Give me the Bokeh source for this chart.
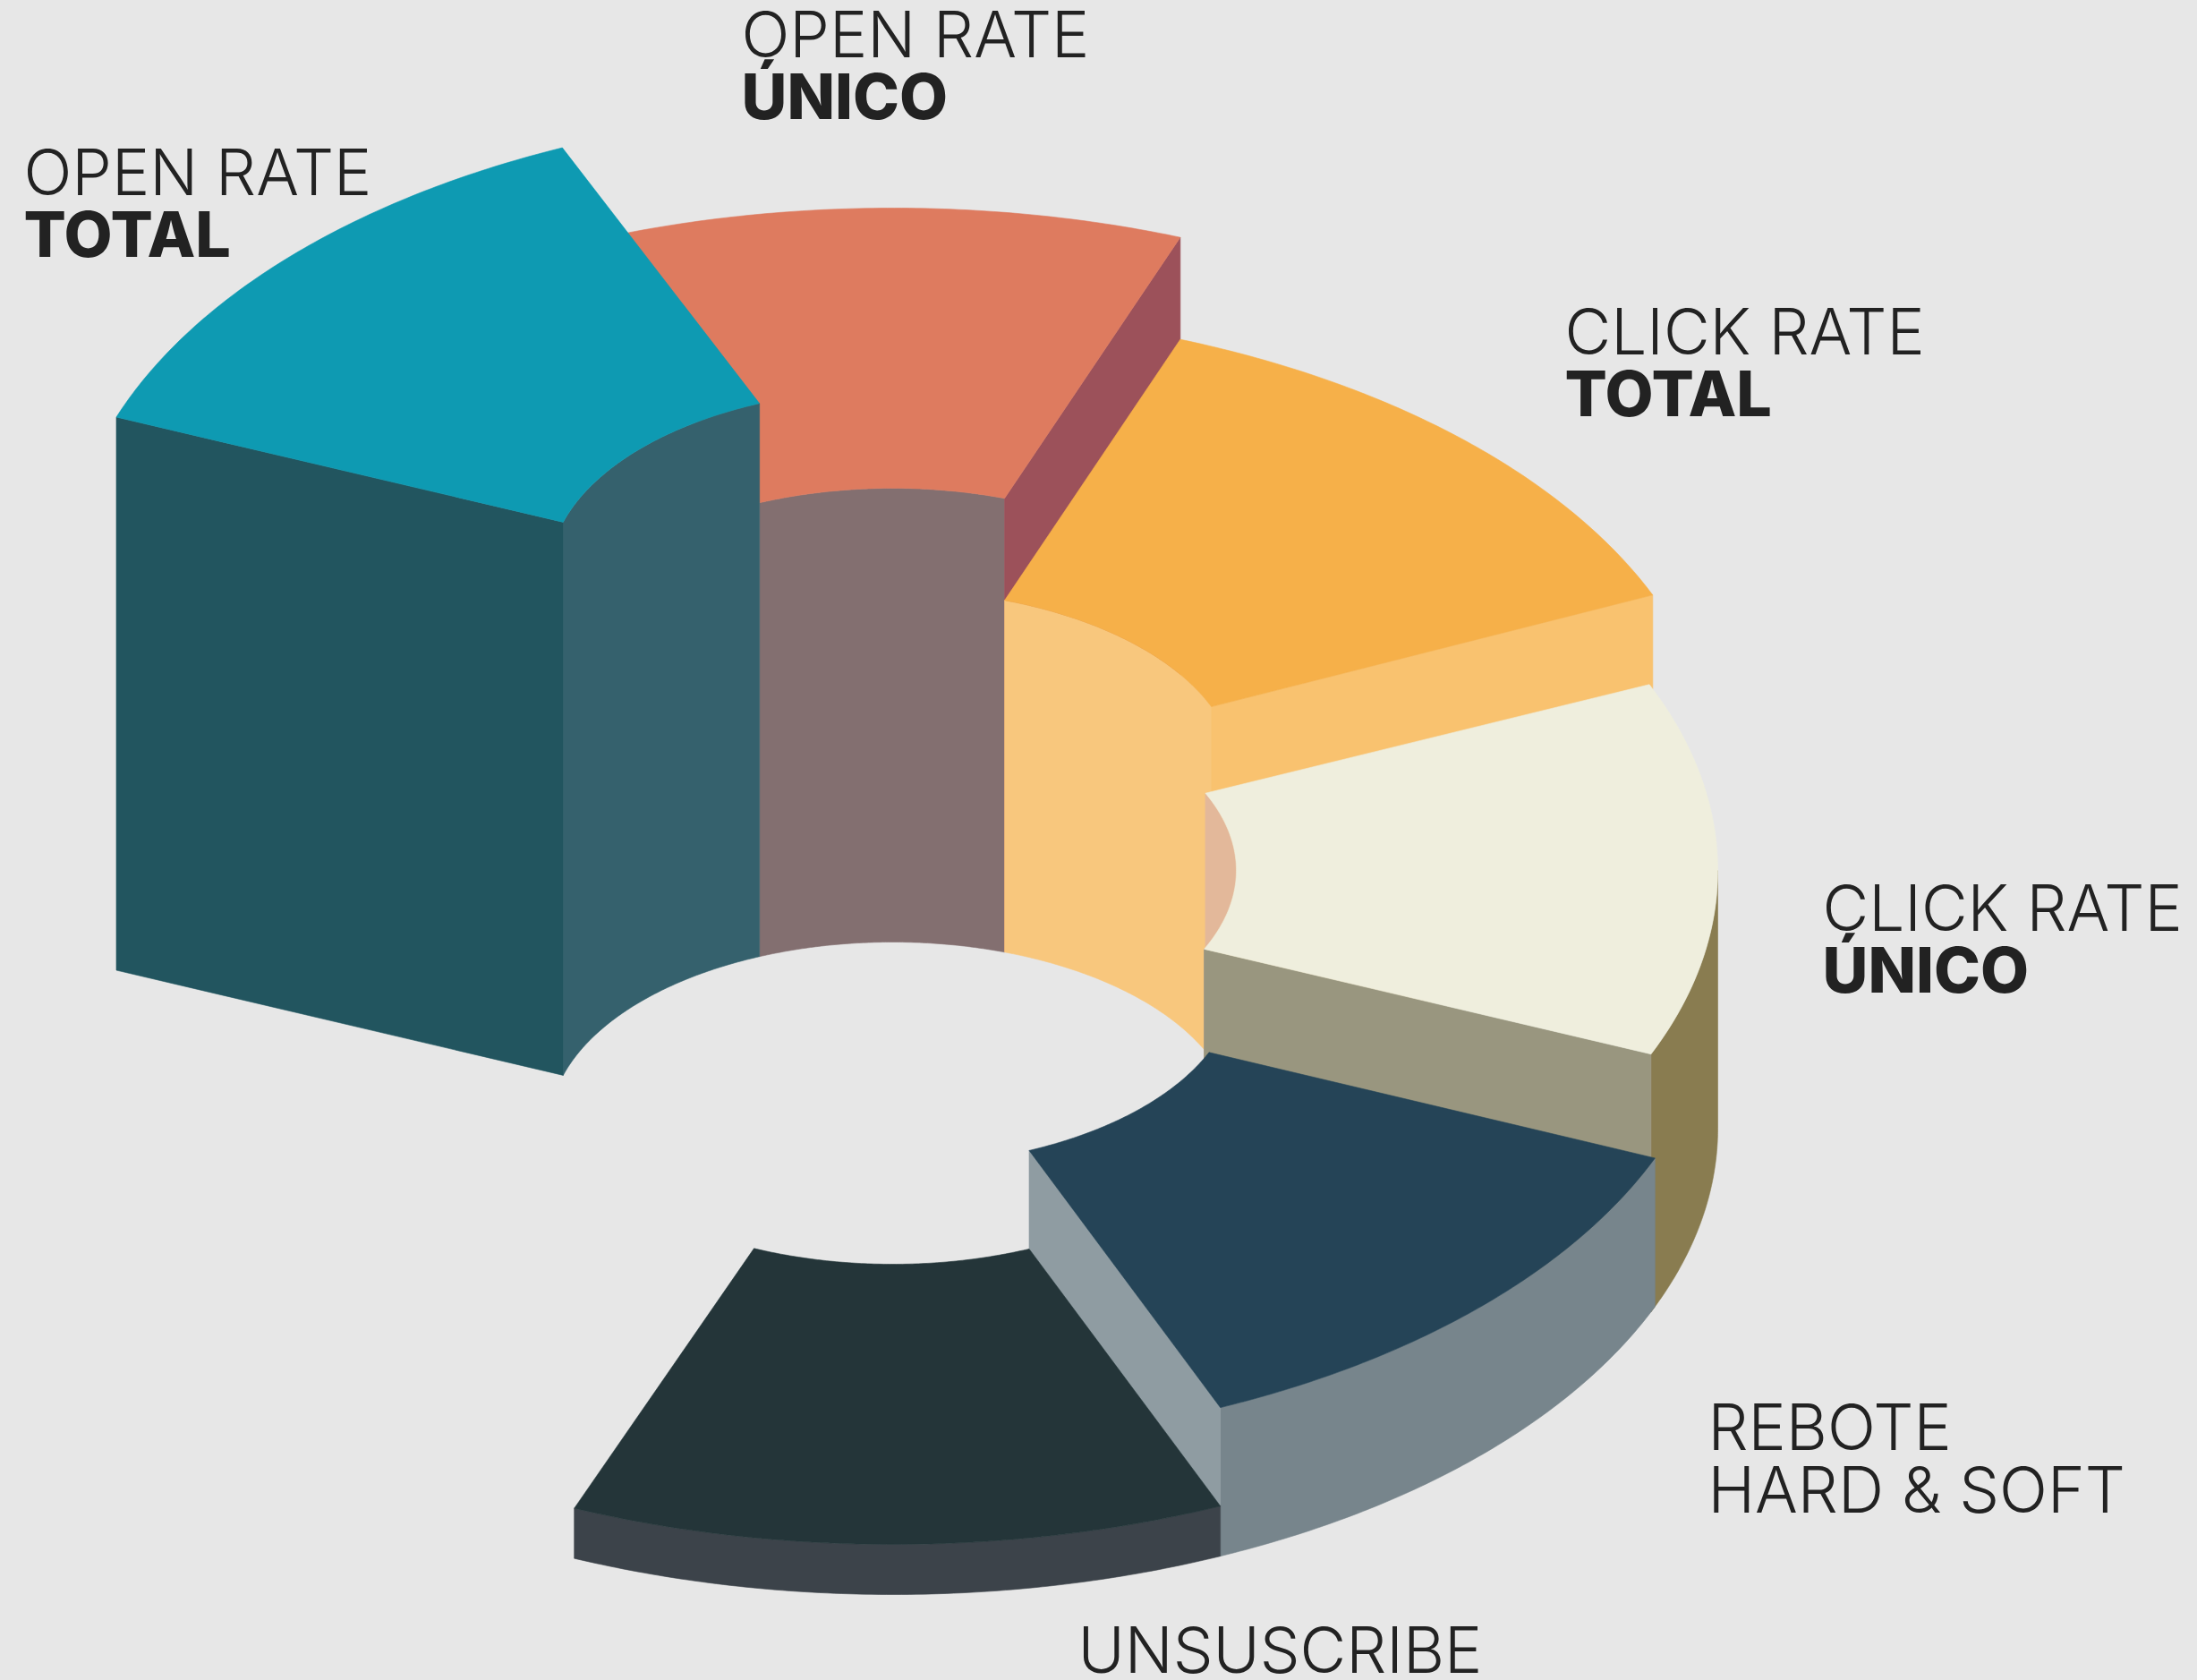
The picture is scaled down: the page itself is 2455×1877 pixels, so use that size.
import numpy as np
from bokeh.plotting import figure
from bokeh.embed import file_html
from bokeh.resources import INLINE
from bokeh.core.properties import value

BG = "#e7e7e7"
# segments: start/end parametric angle in degrees (outer rim, inner rim), extrusion height in reference pixels
names = ["OPEN RATE TOTAL", "OPEN RATE UNICO", "CLICK RATE TOTAL", "CLICK RATE UNICO", "REBOTE", "UNSUSCRIBE"]
ang_start = [160.2, 113.6, 69.6, 23.5, -22.5, -66.6]
ang_end = [113.6, 69.6, 22.9, -23.2, -66.6, -112.7]
inner_start = [163.5, 112.8, 71.0, 24.5, -23.0, -66.6]
inner_end = [112.8, 71.0, 22.0, -25.0, -66.6, -113.8]
heights = [618, 507, 393, 288, 166, 56]
top_col = ["#0e9ab2", "#de7b5f", "#f6b049", "#efeedd", "#254457", "#243539"]
inner_col = ["#35616d", "#836f70", "#f8c77d", "#e3b89a", None, None]
end_col = ["#22555f", "#9c515a", "#f9c26f", "#99967f", "#8f9ca2", None]
outer_col = [None, None, None, "#897c50", "#77858c", "#3c434a"]
draw_order = [1, 0, 2, 3, 4, 5]
label_l1 = ["OPEN RATE", "OPEN RATE", "CLICK RATE", "CLICK RATE", "REBOTE", "UNSUSCRIBE"]
label_l2 = ["TOTAL", "ÚNICO", "TOTAL", "ÚNICO", "HARD & SOFT", ""]
label_x = [26, 828, 1748, 2036, 1908, 1204]
label_y = [218, 64, 396, 1040, 1620, 1869]
BASELINE_SHIFT = 27

CX, CY = 997.0, 1260.0
RXO, RYO = 922.0, 521.0
RXI, RYI = 384.0, 208.0

p = figure(width=2455, height=1877, x_range=(0, 2455), y_range=(1877, 0),
           output_backend="svg", toolbar_location=None, background_fill_color=BG,
           border_fill_color=BG, min_border=0, outline_line_color=None)
p.axis.visible = False
p.grid.visible = False

def arc(rx, ry, a0, a1, h):
    t = np.radians(np.linspace(a0, a1, 90))
    return CX + rx*np.cos(t), CY - h - ry*np.sin(t)

def poly(xs, ys, col):
    p.patch(list(xs), list(ys), fill_color=col, line_color=col, line_width=0.6)

for i in draw_order:
    a0, a1, h = ang_start[i], ang_end[i], heights[i]
    b0, b1 = inner_start[i], inner_end[i]
    if outer_col[i]:
        hi = min(a0, 0)
        x1, y1 = arc(RXO, RYO, a1, hi, h)
        x2, y2 = arc(RXO, RYO, hi, a1, 0)
        poly(np.r_[x1, x2], np.r_[y1, y2], outer_col[i])
    if inner_col[i]:
        x1, y1 = arc(RXI, RYI, b0, b1, h)
        x2, y2 = arc(RXI, RYI, b1, b0, 0)
        poly(np.r_[x1, x2], np.r_[y1, y2], inner_col[i])
    if end_col[i]:
        e, f = (a0, b0) if i == 0 else (a1, b1)
        xo, yo = arc(RXO, RYO, e, e, h)
        xi, yi = arc(RXI, RYI, f, f, h)
        poly([xo[0], xi[0], xi[0], xo[0]], [yo[0], yi[0], yi[0]+h, yo[0]+h], end_col[i])
    x1, y1 = arc(RXO, RYO, a0, a1, h)
    x2, y2 = arc(RXI, RYI, b1, b0, h)
    poly(np.r_[x1, x2], np.r_[y1, y2], top_col[i])

LIGHT = value("Inter Light")
HEAVY = value("Inter ExtraBold")
for i in range(6):
    p.text([label_x[i]], [label_y[i]-BASELINE_SHIFT], text=[label_l1[i]], text_font=LIGHT, text_font_size="71px",
           text_color="#222222", text_baseline="alphabetic")
    if label_l2[i]:
        heavy = label_l2[i] != "HARD & SOFT"
        p.text([label_x[i]], [label_y[i]+70-BASELINE_SHIFT], text=[label_l2[i]], text_font=HEAVY if heavy else LIGHT,
               text_font_size="70px" if heavy else "71px",
               text_color="#222222", text_baseline="alphabetic")

html = file_html(p, INLINE)
html = html.replace("<head>", "<head><style>html,body{background:%s}</style>" % BG, 1)
open("out.html", "w").write(html)
